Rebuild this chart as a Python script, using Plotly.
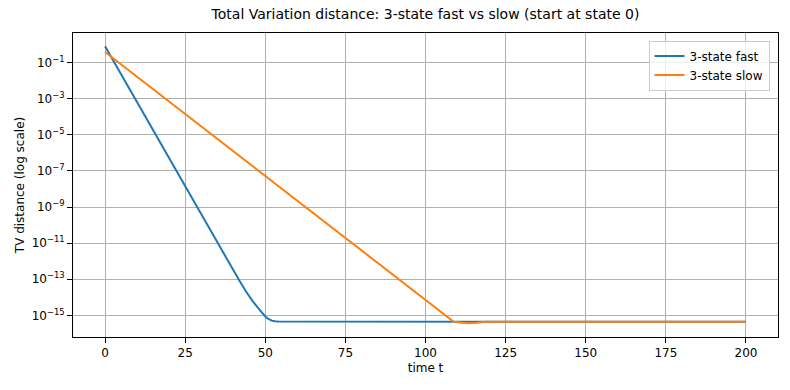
import plotly.graph_objects as go

# Data (values at selected times)
fast_t = [0, 40, 42, 44, 46, 48, 49, 50, 51, 52, 53, 54, 200]
fast_tv = [0.805, 3.0e-13, 7.9e-14, 2.1e-14, 6.3e-15, 2.3e-15, 1.35e-15, 8.7e-16,
           6.3e-16, 5.1e-16, 4.7e-16, 4.5e-16, 4.45e-16]

slow_t = [0, 50, 100, 108.8, 111, 113.5, 116, 118.7, 200]
slow_tv = [0.39, 5.3e-8, 7.2e-15, 4.45e-16, 4.0e-16, 3.7e-16, 3.9e-16, 4.45e-16, 4.45e-16]

x_ticks = [0, 25, 50, 75, 100, 125, 150, 175, 200]
y_exps = [-1, -3, -5, -7, -9, -11, -13, -15]

FONT = "DejaVu Sans"

fig = go.Figure()
fig.add_trace(go.Scatter(x=fast_t, y=fast_tv, mode="lines", name="3-state fast",
                         line=dict(color="#1f77b4", width=2)))
fig.add_trace(go.Scatter(x=slow_t, y=slow_tv, mode="lines", name="3-state slow",
                         line=dict(color="#ff7f0e", width=2)))

fig.update_layout(
    width=790, height=390,
    margin=dict(l=73, r=12, t=33, b=53, autoexpand=False),
    paper_bgcolor="white", plot_bgcolor="white",
    font=dict(family=FONT, size=12, color="black"),
    title=dict(text="Total Variation distance: 3-state fast vs slow (start at state 0)",
               x=0.5, xref="paper", xanchor="center", y=1, yref="container",
               yanchor="top", pad=dict(t=9), font=dict(size=14), automargin=False),
    showlegend=True,
    legend=dict(x=0.988, y=0.975, xanchor="right", yanchor="top",
                bgcolor="rgba(255,255,255,0.8)", bordercolor="#cccccc", borderwidth=1,
                font=dict(size=12)),
)
fig.update_xaxes(
    range=[-10, 210], tickvals=x_ticks, ticks="outside", ticklen=5, tickcolor="black",
    tickfont=dict(size=12), automargin=False,
    showgrid=True, gridcolor="#b0b0b0", gridwidth=1,
    showline=True, linecolor="black", linewidth=1, mirror=True, zeroline=False,
    title=dict(text="time t", standoff=4, font=dict(size=12)),
)
fig.update_yaxes(
    type="log", range=[-16.2, 0.644],
    tickvals=[10.0 ** e for e in y_exps],
    ticktext=["10<sup>\u2212%d</sup>" % (-e) for e in y_exps],
    ticks="outside", ticklen=5, tickcolor="black",
    tickfont=dict(size=12), automargin=False,
    showgrid=True, gridcolor="#b0b0b0", gridwidth=1,
    showline=True, linecolor="black", linewidth=1, mirror=True, zeroline=False,
    title=dict(text="TV distance (log scale)", standoff=4, font=dict(size=12)),
)

fig.write_html("out.html", config={"displayModeBar": False},
               post_script="document.body.style.margin='0';")
